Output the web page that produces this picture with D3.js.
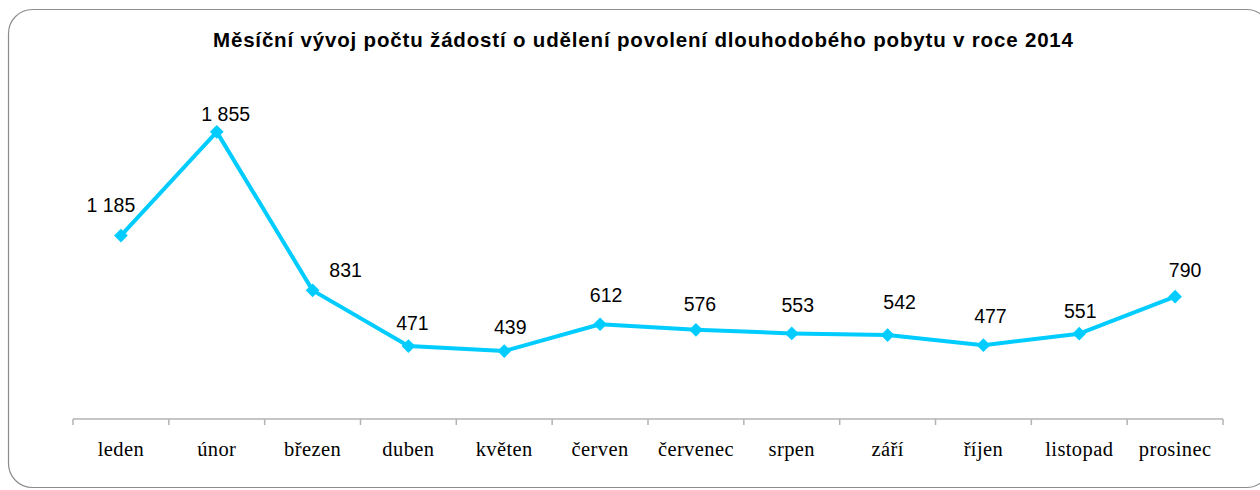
<!DOCTYPE html>
<html><head><meta charset="utf-8">
<script src="https://cdn.jsdelivr.net/npm/d3@7"></script>
<style>html,body{margin:0;padding:0;background:#fff;}svg{display:block;}</style>
</head><body>
<svg id="c" width="1260" height="490"></svg>
<script>
const title = "Měsíční vývoj počtu žádostí o udělení povolení dlouhodobého pobytu v roce 2014";
const months = ["leden","únor","březen","duben","květen","červen","červenec","srpen","září","říjen","listopad","prosinec"];
const values = [1185,1855,831,471,439,612,576,553,542,477,551,790];
const valueLabels = ["1 185","1 855","831","471","439","612","576","553","542","477","551","790"];
// label nudges (px) relative to each point, as placed in the reference
const labelDx = [-10,9,33,4,6,6,4,6,12,7,1,10];
const labelDy = [-24,-11,-13,-16,-17,-22,-19,-21,-26,-22,-16,-20];

const svg = d3.select("#c");
svg.append("rect").attr("x",8.5).attr("y",9.5).attr("width",1262).attr("height",478)
  .attr("rx",24).attr("fill","#fff").attr("stroke","#8c8c8c").attr("stroke-width",1.2);

const t = svg.append("text").attr("x",643).attr("y",47).attr("text-anchor","middle")
  .attr("font-family","Liberation Sans, Arial, sans-serif").attr("font-weight","bold")
  .attr("font-size",20.5).attr("fill","#000").text(title);
t.attr("textLength",860).attr("lengthAdjust","spacing");

const x = d3.scaleBand().domain(months).range([73,1223]).padding(0);
const y = d3.scaleLinear().domain([0,2000]).range([419,109.4]);

const g = svg.append("g").attr("transform","translate(0,419)");
g.append("line").attr("x1",73).attr("x2",1223).attr("y1",0).attr("y2",0)
  .attr("stroke","#b3b3b3").attr("stroke-width",1.5);
const bounds = months.map(m=>x(m)).concat([x(months[months.length-1])+x.bandwidth()]);
g.selectAll("line.tk").data(bounds).join("line").attr("class","tk")
  .attr("x1",d=>d).attr("x2",d=>d).attr("y1",0).attr("y2",6)
  .attr("stroke","#b3b3b3").attr("stroke-width",1.5);
g.selectAll("text.lbl").data(months).join("text").attr("class","lbl")
  .attr("x",d=>x(d)+x.bandwidth()/2).attr("y",37).attr("text-anchor","middle")
  .attr("font-family","Liberation Serif, Times New Roman, serif").attr("font-size",20.5)
  .attr("letter-spacing",0.4).attr("fill","#000").text(d=>d);

const pts = months.map((m,i)=>({m, v:values[i], i}));
const line = d3.line().x(d=>x(d.m)+x.bandwidth()/2).y(d=>y(d.v));
svg.append("path").datum(pts).attr("d",line).attr("fill","none")
  .attr("stroke","#00CCFF").attr("stroke-width",4).attr("stroke-linejoin","round");
svg.selectAll("path.mk").data(pts).join("path").attr("class","mk")
  .attr("d",d3.symbol().type(d3.symbolDiamond2).size(120))
  .attr("transform",d=>`translate(${x(d.m)+x.bandwidth()/2},${y(d.v)})`)
  .attr("fill","#00CCFF");
svg.selectAll("text.val").data(pts).join("text").attr("class","val")
  .attr("x",d=>x(d.m)+x.bandwidth()/2+labelDx[d.i]).attr("y",d=>y(d.v)+labelDy[d.i])
  .attr("text-anchor","middle").attr("font-family","Liberation Sans, Arial, sans-serif")
  .attr("font-size",19.5).attr("fill","#000").text(d=>valueLabels[d.i]);
</script>
</body></html>
